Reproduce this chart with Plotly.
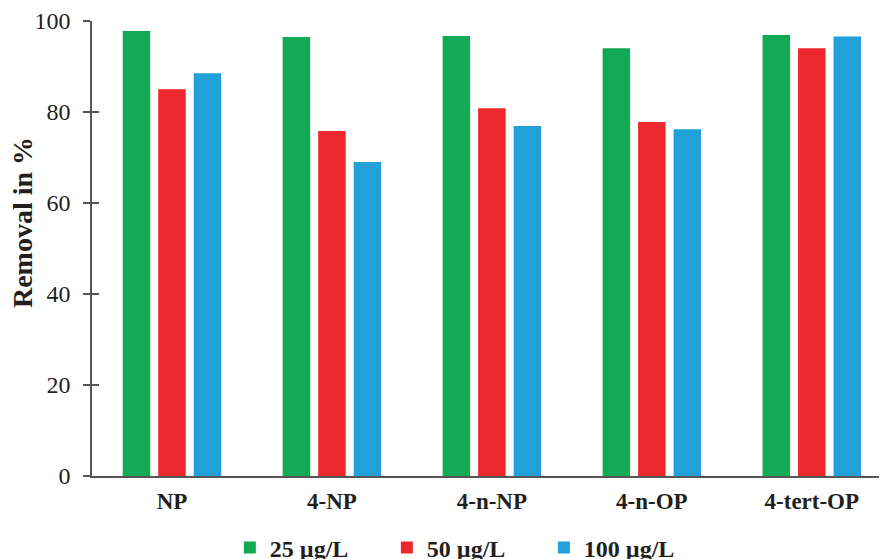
import plotly.graph_objects as go

categories = ["NP", "4-NP", "4-n-NP", "4-n-OP", "4-tert-OP"]
series_names = ["25 µg/L", "50 µg/L", "100 µg/L"]
vals_25 = [97.8, 96.5, 96.7, 94.0, 96.9]
vals_50 = [85.0, 75.8, 80.8, 77.8, 94.0]
vals_100 = [88.5, 69.0, 76.9, 76.2, 96.6]
y_ticks = [0, 20, 40, 60, 80, 100]

colors = ["#13AA56", "#EC282E", "#21A0D9"]
serif = "Liberation Serif"
axis_col = "#555555"
txt_col = "#231F20"

fig = go.Figure()
for name, vals, c in zip(series_names, [vals_25, vals_50, vals_100], colors):
    fig.add_trace(go.Bar(x=categories, y=vals, name=name, marker=dict(color=c, line=dict(width=0))))

# helper invisible trace so the overlay axis (inside ticks) is drawn
fig.add_trace(go.Scatter(x=[categories[0]], y=[None], yaxis="y2", showlegend=False,
                         hoverinfo="skip", mode="markers"))

fig.update_layout(
    width=879, height=551,
    margin=dict(l=84, r=0, t=13, b=83, autoexpand=False),
    plot_bgcolor="white", paper_bgcolor="white",
    barmode="group", bargap=0.334, bargroupgap=0.225,
    font=dict(family=serif, color=txt_col),
    xaxis=dict(range=[-0.5, 4.47], showline=True, linecolor=axis_col, linewidth=1.5,
               ticks="", showgrid=False, zeroline=False, automargin=False,
               tickfont=dict(family=serif, size=23, color=txt_col, weight="bold"),
               ticklabelstandoff=4),
    yaxis=dict(range=[0, 100], tickvals=y_ticks, showline=True, linecolor=axis_col, linewidth=1.5,
               ticks="outside", ticklen=7, tickwidth=1.5, tickcolor=axis_col,
               showgrid=False, zeroline=False, automargin=False,
               ticklabelstandoff=8,
               tickfont=dict(family=serif, size=24, color=txt_col)),
    yaxis2=dict(range=[0, 100], tickvals=y_ticks, overlaying="y", side="left", anchor="x",
                showline=False, ticks="inside", ticklen=7, tickwidth=1.5, tickcolor=axis_col,
                showticklabels=False, showgrid=False, zeroline=False, automargin=False),
    legend=dict(orientation="h", xref="container", yref="container",
                x=0.2524, xanchor="left", y=0.02, yanchor="middle",
                entrywidth=112, traceorder="normal",
                font=dict(family=serif, size=24, color=txt_col, weight="bold"),
                bgcolor="rgba(0,0,0,0)"),
    showlegend=True,
    annotations=[dict(text="<b>Removal in %</b>", textangle=-90, showarrow=False,
                      xref="paper", yref="paper", x=-0.088, y=0.556,
                      xanchor="center", yanchor="middle",
                      font=dict(family=serif, size=28, color=txt_col))],
)

fig.write_html("out.html")
